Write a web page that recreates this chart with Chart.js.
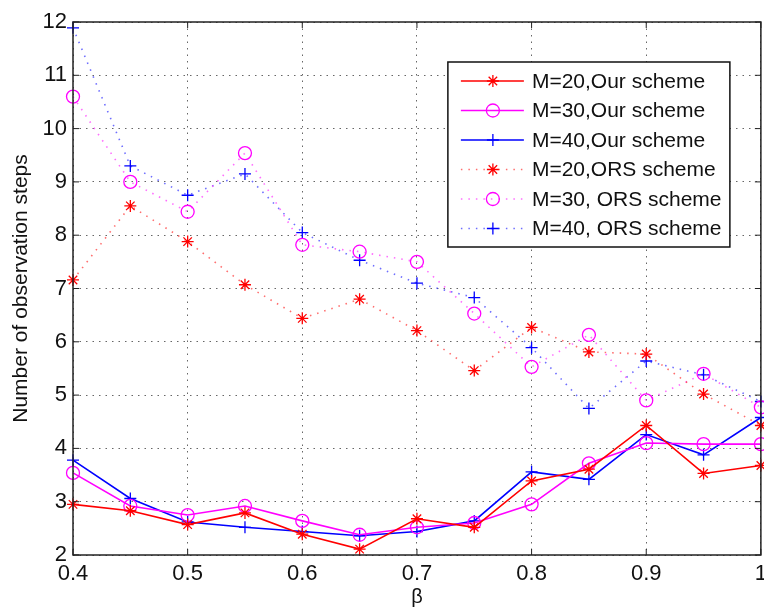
<!DOCTYPE html>
<html>
<head>
<meta charset="utf-8">
<script src="https://cdn.jsdelivr.net/npm/chart.js@4.4.1/dist/chart.umd.min.js"></script>
<style>
    html, body { margin: 0; padding: 0; background: #fff; overflow: hidden; }
    #wrap { width: 764px; height: 609px; overflow: hidden; }
</style>
</head>
<body>
<!-- canvas is a bit wider than the page so the "1" label overhang falls off the right edge, like the original -->
<div id="wrap"><canvas id="steps-chart" width="773" height="609"></canvas></div>
<script>
// beta values on the x axis
const beta = [0.4, 0.45, 0.5, 0.55, 0.6, 0.65, 0.7, 0.75, 0.8, 0.85, 0.9, 0.95, 1.0];

// our scheme
const ourM20 = [2.95, 2.83, 2.57, 2.79, 2.39, 2.11, 2.68, 2.52, 3.39, 3.61, 4.43, 3.53, 3.68];
const ourM30 = [3.54, 2.92, 2.75, 2.92, 2.64, 2.38, 2.52, 2.60, 2.95, 3.72, 4.10, 4.08, 4.08];
const ourM40 = [3.78, 3.06, 2.62, 2.52, 2.44, 2.36, 2.44, 2.64, 3.56, 3.42, 4.26, 3.88, 4.58];

// ORS scheme
const orsM20 = [7.16, 8.55, 7.88, 7.07, 6.44, 6.80, 6.21, 5.46, 6.27, 5.81, 5.77, 5.02, 4.43];
const orsM30 = [10.60, 9.00, 8.44, 9.54, 7.82, 7.69, 7.50, 6.53, 5.53, 6.13, 4.90, 5.40, 4.77];
const orsM40 = [11.89, 9.30, 8.75, 9.15, 8.05, 7.53, 7.10, 6.83, 5.89, 4.75, 5.64, 5.38, 4.88];

const seriesLabels = [
    'M=20,Our scheme',
    'M=30,Our scheme',
    'M=40,Our scheme',
    'M=20,ORS scheme',
    'M=30, ORS scheme',
    'M=40, ORS scheme'
];

const yTicks = [2, 3, 4, 5, 6, 7, 8, 9, 10, 11, 12];
const xTicks = [0.4, 0.5, 0.6, 0.7, 0.8, 0.9, 1];

const FONT = '"Liberation Sans", Arial, Helvetica, sans-serif';

function toPoints(values) {
    return beta.map((b, i) => ({ x: b, y: values[i] }));
}

function makeDataset(label, values, color, faint, style, dotted) {
    return {
        label: label,
        data: toPoints(values),
        borderColor: dotted ? faint : color,
        backgroundColor: 'transparent',
        borderWidth: 1.6,
        borderDash: dotted ? [1.5, 6] : [],
        pointStyle: style,
        pointRadius: style === 'circle' ? 6.5 : 6,
        pointBorderWidth: 1.3,
        pointBorderColor: color,
        pointBackgroundColor: 'transparent',
        tension: 0,
        clip: false
    };
}

// matlab style box, inward ticks and legend inside the plot
const matlabFrame = {
    id: 'matlabFrame',
    afterDatasetsDraw(chart) {
        const ctx = chart.ctx;
        const area = chart.chartArea;
        const xs = chart.scales.x;
        const ys = chart.scales.y;

        ctx.save();
        ctx.strokeStyle = '#222';
        ctx.lineWidth = 1.5;
        ctx.strokeRect(area.left, area.top, area.right - area.left, area.bottom - area.top);

        ctx.lineWidth = 1;
        ctx.beginPath();
        xTicks.forEach(v => {
            const px = xs.getPixelForValue(v);
            ctx.moveTo(px, area.bottom); ctx.lineTo(px, area.bottom - 6);
            ctx.moveTo(px, area.top); ctx.lineTo(px, area.top + 6);
        });
        yTicks.forEach(v => {
            const py = ys.getPixelForValue(v);
            ctx.moveTo(area.left, py); ctx.lineTo(area.left + 6, py);
            ctx.moveTo(area.right, py); ctx.lineTo(area.right - 6, py);
        });
        ctx.stroke();

        // legend
        const boxRight = area.right - 31;
        const boxLeft = boxRight - 282;
        const boxTop = area.top + 40;
        const rowH = 29.5;
        const boxH = rowH * chart.data.datasets.length + 8;

        ctx.fillStyle = '#fff';
        ctx.fillRect(boxLeft, boxTop, boxRight - boxLeft, boxH);
        ctx.strokeStyle = '#111';
        ctx.lineWidth = 1.5;
        ctx.strokeRect(boxLeft, boxTop, boxRight - boxLeft, boxH);

        ctx.font = '21px ' + FONT;
        ctx.textBaseline = 'middle';
        ctx.textAlign = 'left';

        chart.data.datasets.forEach((ds, i) => {
            const y = boxTop + 19 + i * rowH;
            ctx.strokeStyle = ds.borderColor;
            ctx.lineWidth = ds.borderWidth;
            ctx.setLineDash(ds.borderDash);
            ctx.beginPath();
            ctx.moveTo(boxLeft + 13, y);
            ctx.lineTo(boxLeft + 76, y);
            ctx.stroke();
            ctx.setLineDash([]);

            ctx.strokeStyle = ds.pointBorderColor;
            ctx.fillStyle = 'transparent';
            ctx.lineWidth = ds.pointBorderWidth;
            Chart.helpers.drawPoint(ctx, {
                pointStyle: ds.pointStyle,
                radius: ds.pointRadius,
                borderWidth: ds.pointBorderWidth,
                rotation: 0
            }, boxLeft + 45, y);

            ctx.fillStyle = '#111';
            ctx.fillText(ds.label, boxLeft + 84, y + 1);
        });
        ctx.restore();
    }
};

function renderChart() {
    const ctx = document.getElementById('steps-chart').getContext('2d');

    new Chart(ctx, {
        type: 'line',
        data: {
            datasets: [
                makeDataset(seriesLabels[0], ourM20, '#ff0000', '', 'star', false),
                makeDataset(seriesLabels[1], ourM30, '#ff00ff', '', 'circle', false),
                makeDataset(seriesLabels[2], ourM40, '#0000ff', '', 'cross', false),
                makeDataset(seriesLabels[3], orsM20, '#ff0000', 'rgba(255,60,60,0.75)', 'star', true),
                makeDataset(seriesLabels[4], orsM30, '#ff00ff', 'rgba(255,60,255,0.75)', 'circle', true),
                makeDataset(seriesLabels[5], orsM40, '#0000ff', 'rgba(60,60,255,0.75)', 'cross', true)
            ]
        },
        options: {
            responsive: false,
            animation: false,
            layout: { padding: { top: 22, right: 0, left: 0, bottom: 0 } },
            plugins: {
                legend: { display: false },
                tooltip: { enabled: false }
            },
            scales: {
                x: {
                    type: 'linear',
                    min: 0.4,
                    max: 1,
                    afterBuildTicks: scale => { scale.ticks = xTicks.map(v => ({ value: v })); },
                    afterFit: scale => { scale.height = 54; },
                    ticks: {
                        color: '#111',
                        font: { family: FONT, size: 22 },
                        padding: 6,
                        maxRotation: 0,
                        callback: v => String(Number(v.toFixed(1)))
                    },
                    grid: { color: '#666', lineWidth: 1, drawTicks: false },
                    border: { display: false, dash: [1.5, 5] },
                    title: {
                        display: true,
                        text: 'β',
                        color: '#111',
                        font: { family: FONT, size: 20 },
                        padding: { top: 0, bottom: 0 }
                    }
                },
                y: {
                    min: 2,
                    max: 12,
                    afterBuildTicks: scale => { scale.ticks = yTicks.map(v => ({ value: v })); },
                    afterFit: scale => { scale.width = 73; },
                    ticks: {
                        color: '#111',
                        font: { family: FONT, size: 22 },
                        padding: 6
                    },
                    grid: { color: '#666', lineWidth: 1, drawTicks: false },
                    border: { display: false, dash: [1.5, 5] },
                    title: {
                        display: true,
                        text: 'Number of observation steps',
                        color: '#111',
                        font: { family: FONT, size: 21 },
                        padding: { top: 9, bottom: 0 }
                    }
                }
            }
        },
        plugins: [matlabFrame]
    });
}

document.addEventListener('DOMContentLoaded', renderChart);
</script>
</body>
</html>
